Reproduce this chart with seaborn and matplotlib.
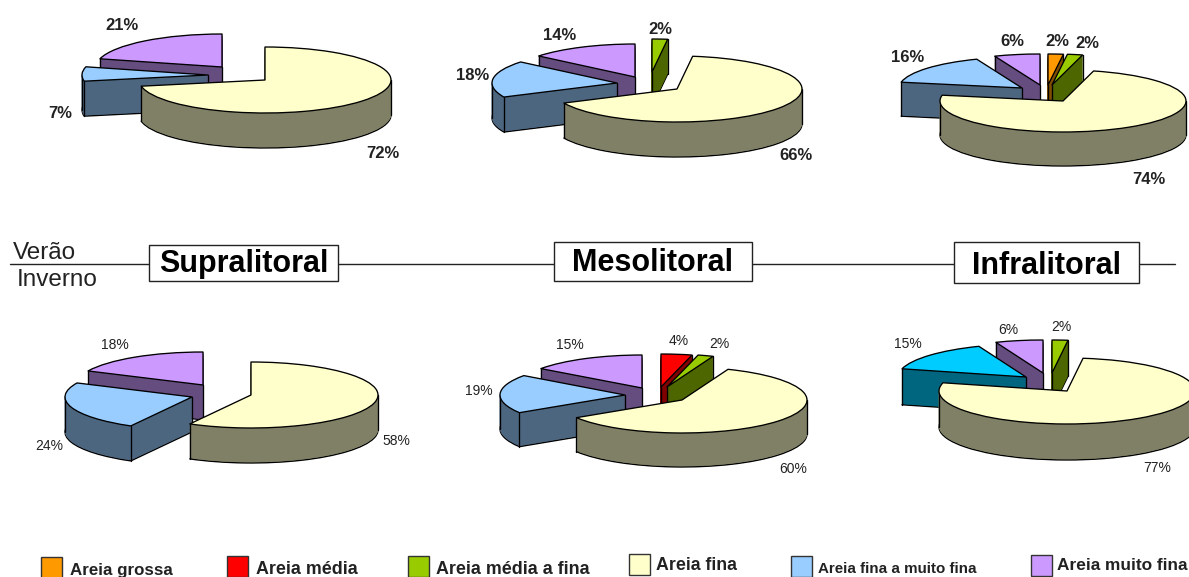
import numpy as np
import seaborn as sns
import matplotlib
matplotlib.use('Agg')
import matplotlib.pyplot as plt
from matplotlib.patches import Rectangle

# sediment classes, clockwise from 12 o'clock in every pie
classes = ['Areia grossa', 'Areia média', 'Areia média a fina', 'Areia fina',
           'Areia fina a muito fina', 'Areia muito fina']

# percentages per zone, top row is Verão, bottom row is Inverno
supra_verao = [0, 0, 0, 72, 7, 21]
meso_verao = [0, 0, 2, 66, 18, 14]
infra_verao = [2, 0, 2, 74, 16, 6]
supra_inverno = [0, 0, 0, 58, 24, 18]
meso_inverno = [0, 4, 2, 60, 19, 15]
infra_inverno = [0, 0, 2, 77, 15, 6]

zones = ['Supralitoral', 'Mesolitoral', 'Infralitoral']

face_colors = ['#FF9900', '#FF0000', '#99CC00', '#FFFFCC', '#99CCFF', '#CC99FF']
wall_colors = ['#804D00', '#800000', '#4D6600', '#808066', '#4D6680', '#664D80']
cyan_face = '#00CCFF'
cyan_wall = '#006680'

W, H = 1189, 577
LW = 0.95

# layout in pixels: apex of the yellow slice, radii, thickness, explode of the
# other slices relative to yellow, and where each percent label goes
pies = [
    dict(values=supra_verao, cx=265, cy=80, rx=126, ry=33, depth=35, bold=True,
         explode={4: (-57, -5), 5: (-43, -13)},
         labels={3: (383, 153), 4: (60, 113), 5: (122, 26)}),
    dict(values=meso_verao, cx=677, cy=89, rx=125, ry=33, depth=35, bold=True,
         explode={2: (-25, -17), 4: (-60, -6), 5: (-42, -12)},
         labels={2: (660, 29), 3: (796, 156), 4: (473, 76), 5: (560, 36)}),
    dict(values=infra_verao, cx=1063, cy=101, rx=123, ry=31, depth=34, bold=True,
         explode={0: (-15, -16), 2: (-11, -16), 4: (-41, -13), 5: (-23, -16)},
         labels={0: (1057, 42), 2: (1087, 44), 3: (1149, 180), 4: (908, 58), 5: (1012, 42)}),
    dict(values=supra_inverno, cx=251, cy=395, rx=127, ry=33, depth=35, bold=False,
         explode={4: (-59, 2), 5: (-48, -10)},
         labels={3: (396, 441), 4: (49, 446), 5: (115, 345)}),
    dict(values=meso_inverno, cx=682, cy=400, rx=125, ry=33, depth=34, bold=False,
         explode={1: (-21, -13), 2: (-15, -13), 4: (-57, -5), 5: (-40, -12)},
         labels={1: (679, 341), 2: (719, 344), 3: (793, 469), 4: (479, 391), 5: (570, 345)}),
    dict(values=infra_inverno, cx=1067, cy=391, rx=128, ry=33, depth=36, bold=False,
         explode={2: (-15, -18), 4: (-41, -14), 5: (-24, -18)},
         labels={2: (1061, 327), 3: (1157, 468), 4: (908, 344), 5: (1008, 330)},
         cyan=True),
]

# back slices first, yellow always in front
draw_order = [0, 1, 2, 5, 4, 3]


def add_slice(ax, value, start, x0, y0, color, edge, lw, z):
    wedges, _ = ax.pie([value, 100 - value], startangle=90 - start * 3.6, counterclock=False,
                       colors=[color, 'none'], center=(x0, y0), radius=1, frame=True,
                       wedgeprops=dict(edgecolor=edge, linewidth=lw, joinstyle='round', zorder=z))
    wedges[1].set_visible(False)


def is_inside(x, y, t1, t2):
    # is the point on the top face of the slice between t1 and t2 degrees
    if np.hypot(x, y) > 1:
        return False
    a = np.degrees(np.arctan2(x, y)) % 360
    return t1 - 1e-6 <= a <= t2 + 1e-6 or a + 360 <= t2 + 1e-6


def draw_pie(ax, pie):
    values = pie['values']
    rx, ry = pie['rx'], pie['ry']
    depth = pie['depth'] / ry
    starts = np.cumsum([0] + values[:-1])

    for n, i in enumerate(draw_order):
        if values[i] == 0:
            continue
        face, wall = face_colors[i], wall_colors[i]
        if i == 4 and pie.get('cyan'):
            face, wall = cyan_face, cyan_wall
        dx, dy = pie['explode'].get(i, (0, 0))
        x0, y0 = dx / rx, -dy / ry

        # the wall is a stack of copies of the slice, bottom one outlined
        add_slice(ax, values[i], starts[i], x0, y0 - depth, wall, 'black', LW, n)
        for k in np.arange(pie['depth'] - 1, 0, -0.75):
            add_slice(ax, values[i], starts[i], x0, y0 - k / ry, wall, wall, 0.3, n + 0.1)

        # vertical edges that are not hidden behind the slice
        t1 = starts[i] * 3.6
        t2 = (starts[i] + values[i]) * 3.6
        corners = [(0, 0)]
        for t in [t1, t2] + [t for t in (90, 270) if t1 < t < t2]:
            corners.append((np.sin(np.radians(t)), np.cos(np.radians(t))))
        for cx, cy in corners:
            if not is_inside(cx, cy - 1e-3, t1, t2):
                ax.plot([x0 + cx, x0 + cx], [y0 + cy, y0 + cy - depth], color='black', lw=LW,
                        zorder=n + 0.2)

        add_slice(ax, values[i], starts[i], x0, y0, face, 'black', LW, n + 0.3)

    ax.set_aspect('auto')
    ax.set_xlim(-pie['cx'] / rx, (W - pie['cx']) / rx)
    ax.set_ylim((pie['cy'] - H) / ry, pie['cy'] / ry)
    ax.axis('off')


sns.set_theme(style='white')
plt.rcParams['font.family'] = ['Liberation Sans', 'DejaVu Sans']

fig = plt.figure(figsize=(W / 100, H / 100), dpi=100, facecolor='white')

for pie in pies:
    draw_pie(fig.add_axes([0, 0, 1, 1]), pie)

# everything else goes on one axes in pixel coordinates
top = fig.add_axes([0, 0, 1, 1])
top.set_xlim(0, W)
top.set_ylim(H, 0)
top.axis('off')

for pie in pies:
    for i, (x, y) in pie['labels'].items():
        top.text(x, y, f"{pie['values'][i]}%", ha='center', va='center',
                 fontsize=12 if pie['bold'] else 10,
                 fontweight='bold' if pie['bold'] else 'normal', color='#222222')

top.plot([10, 1175], [264, 264], color='#222222', lw=1, zorder=1)
top.text(13, 253, 'Verão', fontsize=17.5, ha='left', va='center', color='#222222')
top.text(17, 280, 'Inverno', fontsize=17.5, ha='left', va='center', color='#222222')

zone_boxes = [(149, 245, 189, 36), (554, 242, 198, 39), (954, 242, 185, 41)]
zone_text_y = [264, 263, 266]
for name, (x, y, w, h), ty in zip(zones, zone_boxes, zone_text_y):
    top.add_patch(Rectangle((x, y), w, h, facecolor='white', edgecolor='#222222', lw=1, zorder=2))
    top.text(x + w / 2, ty, name, fontsize=22, fontweight='bold', ha='center', va='center',
             color='black', zorder=3)

# legend
swatch_x = [41, 227, 408, 629, 791, 1031]
swatch_y = [557, 556, 556, 554, 556, 555]
text_x = [70, 256, 436, 656, 818, 1057]
text_y = [570, 569, 569, 566, 569, 566]
text_size = [12.2, 12.9, 12.9, 12.8, 10.9, 12.4]
for i, name in enumerate(classes):
    top.add_patch(Rectangle((swatch_x[i], swatch_y[i]), 21, 21, facecolor=face_colors[i],
                            edgecolor='#333333', lw=1))
    top.text(text_x[i], text_y[i], name, fontsize=text_size[i], fontweight='bold', ha='left',
             va='center', color='#222222')

fig.savefig('out.png', dpi=100)
